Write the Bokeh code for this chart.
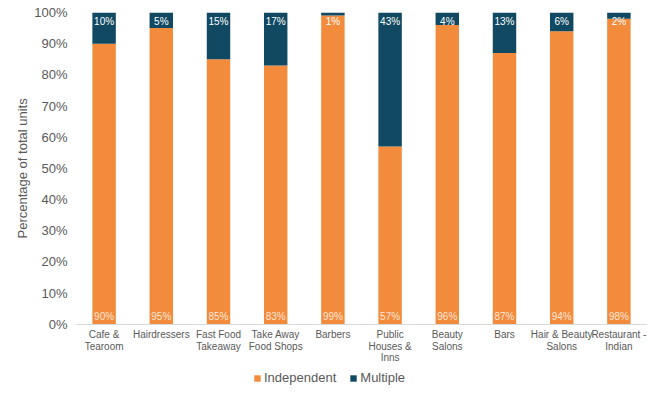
from bokeh.plotting import figure
from bokeh.models import ColumnDataSource, FixedTicker, NumeralTickFormatter, Legend, LegendItem, Range1d, Title
from bokeh.core.properties import value
from bokeh.embed import file_html
from bokeh.resources import INLINE

categories = ["Cafe &\nTearoom", "Hairdressers", "Fast Food\nTakeaway", "Take Away\nFood Shops",
              "Barbers", "Public\nHouses &\nInns", "Beauty\nSalons", "Bars",
              "Hair & Beauty\nSalons", "Restaurant -\nIndian"]
independent = [90, 95, 85, 83, 99, 57, 96, 87, 94, 98]
multiple = [10, 5, 15, 17, 1, 43, 4, 13, 6, 2]

ORANGE = "#F28C3C"
NAVY = "#114962"
FONT = "Liberation Sans"
GREY = "#595959"

src = ColumnDataSource(dict(
    cat=categories,
    ind=[v / 100 for v in independent],
    mul=[v / 100 for v in multiple],
    ind_lbl=[f"{v}%" for v in independent],
    mul_lbl=[f"{v}%" for v in multiple],
    ind_y=[0.025] * len(categories),
    mul_y=[0.97] * len(categories),
))

# frame extends below 0 to leave room for category labels and the legend inside the frame
p = figure(x_range=categories, y_range=Range1d(-0.2, 1), output_backend="svg", toolbar_location=None,
           frame_width=572, frame_height=374, min_border_left=75, min_border_right=2,
           min_border_top=12, min_border_bottom=0)

rs = p.vbar_stack(["ind", "mul"], x="cat", width=0.41, color=[ORANGE, NAVY], line_color=None, source=src)

p.text(x="cat", y="ind_y", text="ind_lbl", source=src, text_align="center", text_baseline="middle",
       text_color="white", text_alpha=0.8, text_font=value(FONT), text_font_size="10px")
p.text(x="cat", y="mul_y", text="mul_lbl", source=src, text_align="center", text_baseline="middle",
       text_color="white", text_font=value(FONT), text_font_size="10px")

p.xgrid.grid_line_color = None
p.ygrid.grid_line_color = None
p.outline_line_color = None
p.x_range.range_padding = 0

p.yaxis.ticker = FixedTicker(ticks=[i / 10 for i in range(11)])
p.yaxis.formatter = NumeralTickFormatter(format="0%")
p.yaxis.axis_line_color = None
p.yaxis.major_tick_line_color = None
p.yaxis.minor_tick_line_color = None
p.yaxis.major_tick_out = 0
p.yaxis.major_label_text_font = FONT
p.yaxis.major_label_text_font_size = "13px"
p.yaxis.major_label_text_color = GREY
p.yaxis.major_label_standoff = 8

ytitle = Title(text="Percentage of total units", align="left", offset=148, standoff=4,
               text_font=FONT, text_font_size="13px", text_font_style="normal", text_color=GREY)
p.add_layout(ytitle, "left")

p.xaxis.fixed_location = 0
p.xaxis.axis_line_color = "#D9D9D9"
p.xaxis.major_tick_line_color = None
p.xaxis.minor_tick_line_color = None
p.xaxis.major_tick_out = 0
p.xaxis.minor_tick_out = 0
p.xaxis.major_label_text_font = FONT
p.xaxis.major_label_text_font_size = "10px"
p.xaxis.major_label_text_color = GREY
p.xaxis.major_label_text_line_height = 1.05
p.xaxis.major_label_standoff = 5

legend = Legend(items=[LegendItem(label="Independent", renderers=[rs[0]]),
                       LegendItem(label="Multiple", renderers=[rs[1]])],
                orientation="horizontal", location=(178, 1),
                label_text_font=FONT, label_text_font_size="13px", label_text_color=GREY,
                label_height=13, glyph_width=8, glyph_height=8, label_standoff=3, spacing=13,
                border_line_color=None, background_fill_alpha=0, padding=2, margin=0)
p.add_layout(legend)

open("out.html", "w").write(file_html(p, INLINE))
